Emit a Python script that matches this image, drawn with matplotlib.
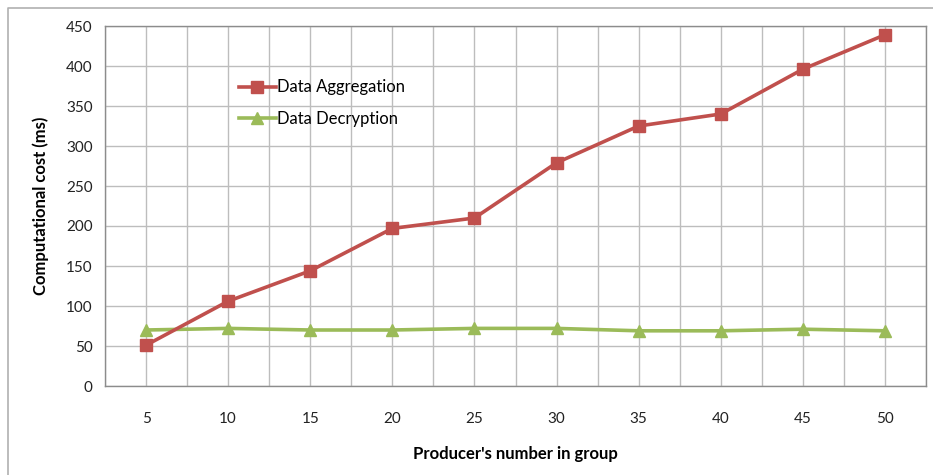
import matplotlib
matplotlib.use("Agg")
import matplotlib.pyplot as plt
from matplotlib.lines import Line2D

categories = ["5", "10", "15", "20", "25", "30", "35", "40", "45", "50"]
aggregation = [51, 106, 144, 197, 210, 279, 325, 340, 396, 439]
decryption = [70, 72, 70, 70, 72, 72, 69, 69, 71, 69]
yticks = [0, 50, 100, 150, 200, 250, 300, 350, 400, 450]

plt.rcParams['font.family'] = ['Lato', 'DejaVu Sans']

W, H = 933, 475
fig = plt.figure(figsize=(W / 100, H / 100), dpi=100)
fig.patch.set_facecolor('white')

# outer chart frame
frame = Line2D([8 / W, 8 / W, 1.0], [0.0, 1 - 8 / H, 1 - 8 / H],
               transform=fig.transFigure, color='#b0b0b0', lw=1.2)
fig.add_artist(frame)

ax = fig.add_axes([105 / W, 1 - 386 / H, (926 - 105) / W, (386 - 26) / H])
x = list(range(len(categories)))

red = '#C0504D'
green = '#9BBB59'
ax.plot(x, aggregation, color=red, lw=2.6, marker='s', markersize=8.5,
        label='Data Aggregation', zorder=4)
ax.plot(x, decryption, color=green, lw=2.6, marker='^', markersize=8.5,
        label='Data Decryption', zorder=3)

ax.set_xlim(-0.5, len(categories) - 0.5)
ax.set_ylim(0, 450)
ax.set_yticks(yticks)
ax.set_xticks(x)
ax.set_xticklabels(categories)
ax.set_xticks([i - 0.5 for i in range(len(categories) + 1)], minor=True)
ax.grid(True, which='both', axis='x', color='#bdbdbd', lw=1)
ax.grid(True, which='major', axis='y', color='#bdbdbd', lw=1)
ax.set_axisbelow(True)
ax.tick_params(axis='both', which='both', length=0, labelsize=11, colors='#222222')
ax.tick_params(axis='x', pad=19)
ax.tick_params(axis='y', pad=9)
for s in ax.spines.values():
    s.set_color('#8c8c8c')
    s.set_linewidth(1)

ax.set_xlabel("Producer's number in group", fontsize=12, fontweight='bold', labelpad=14)
ax.set_ylabel("Computational cost (ms)", fontsize=12, fontweight='bold', labelpad=12)

leg = ax.legend(loc='upper left', bbox_to_anchor=(0.155, 0.87), frameon=False,
                fontsize=12, handlelength=2.2, handletextpad=0.1, labelspacing=0.95,
                borderaxespad=0)

fig.savefig('out.png', dpi=100, facecolor='white')
